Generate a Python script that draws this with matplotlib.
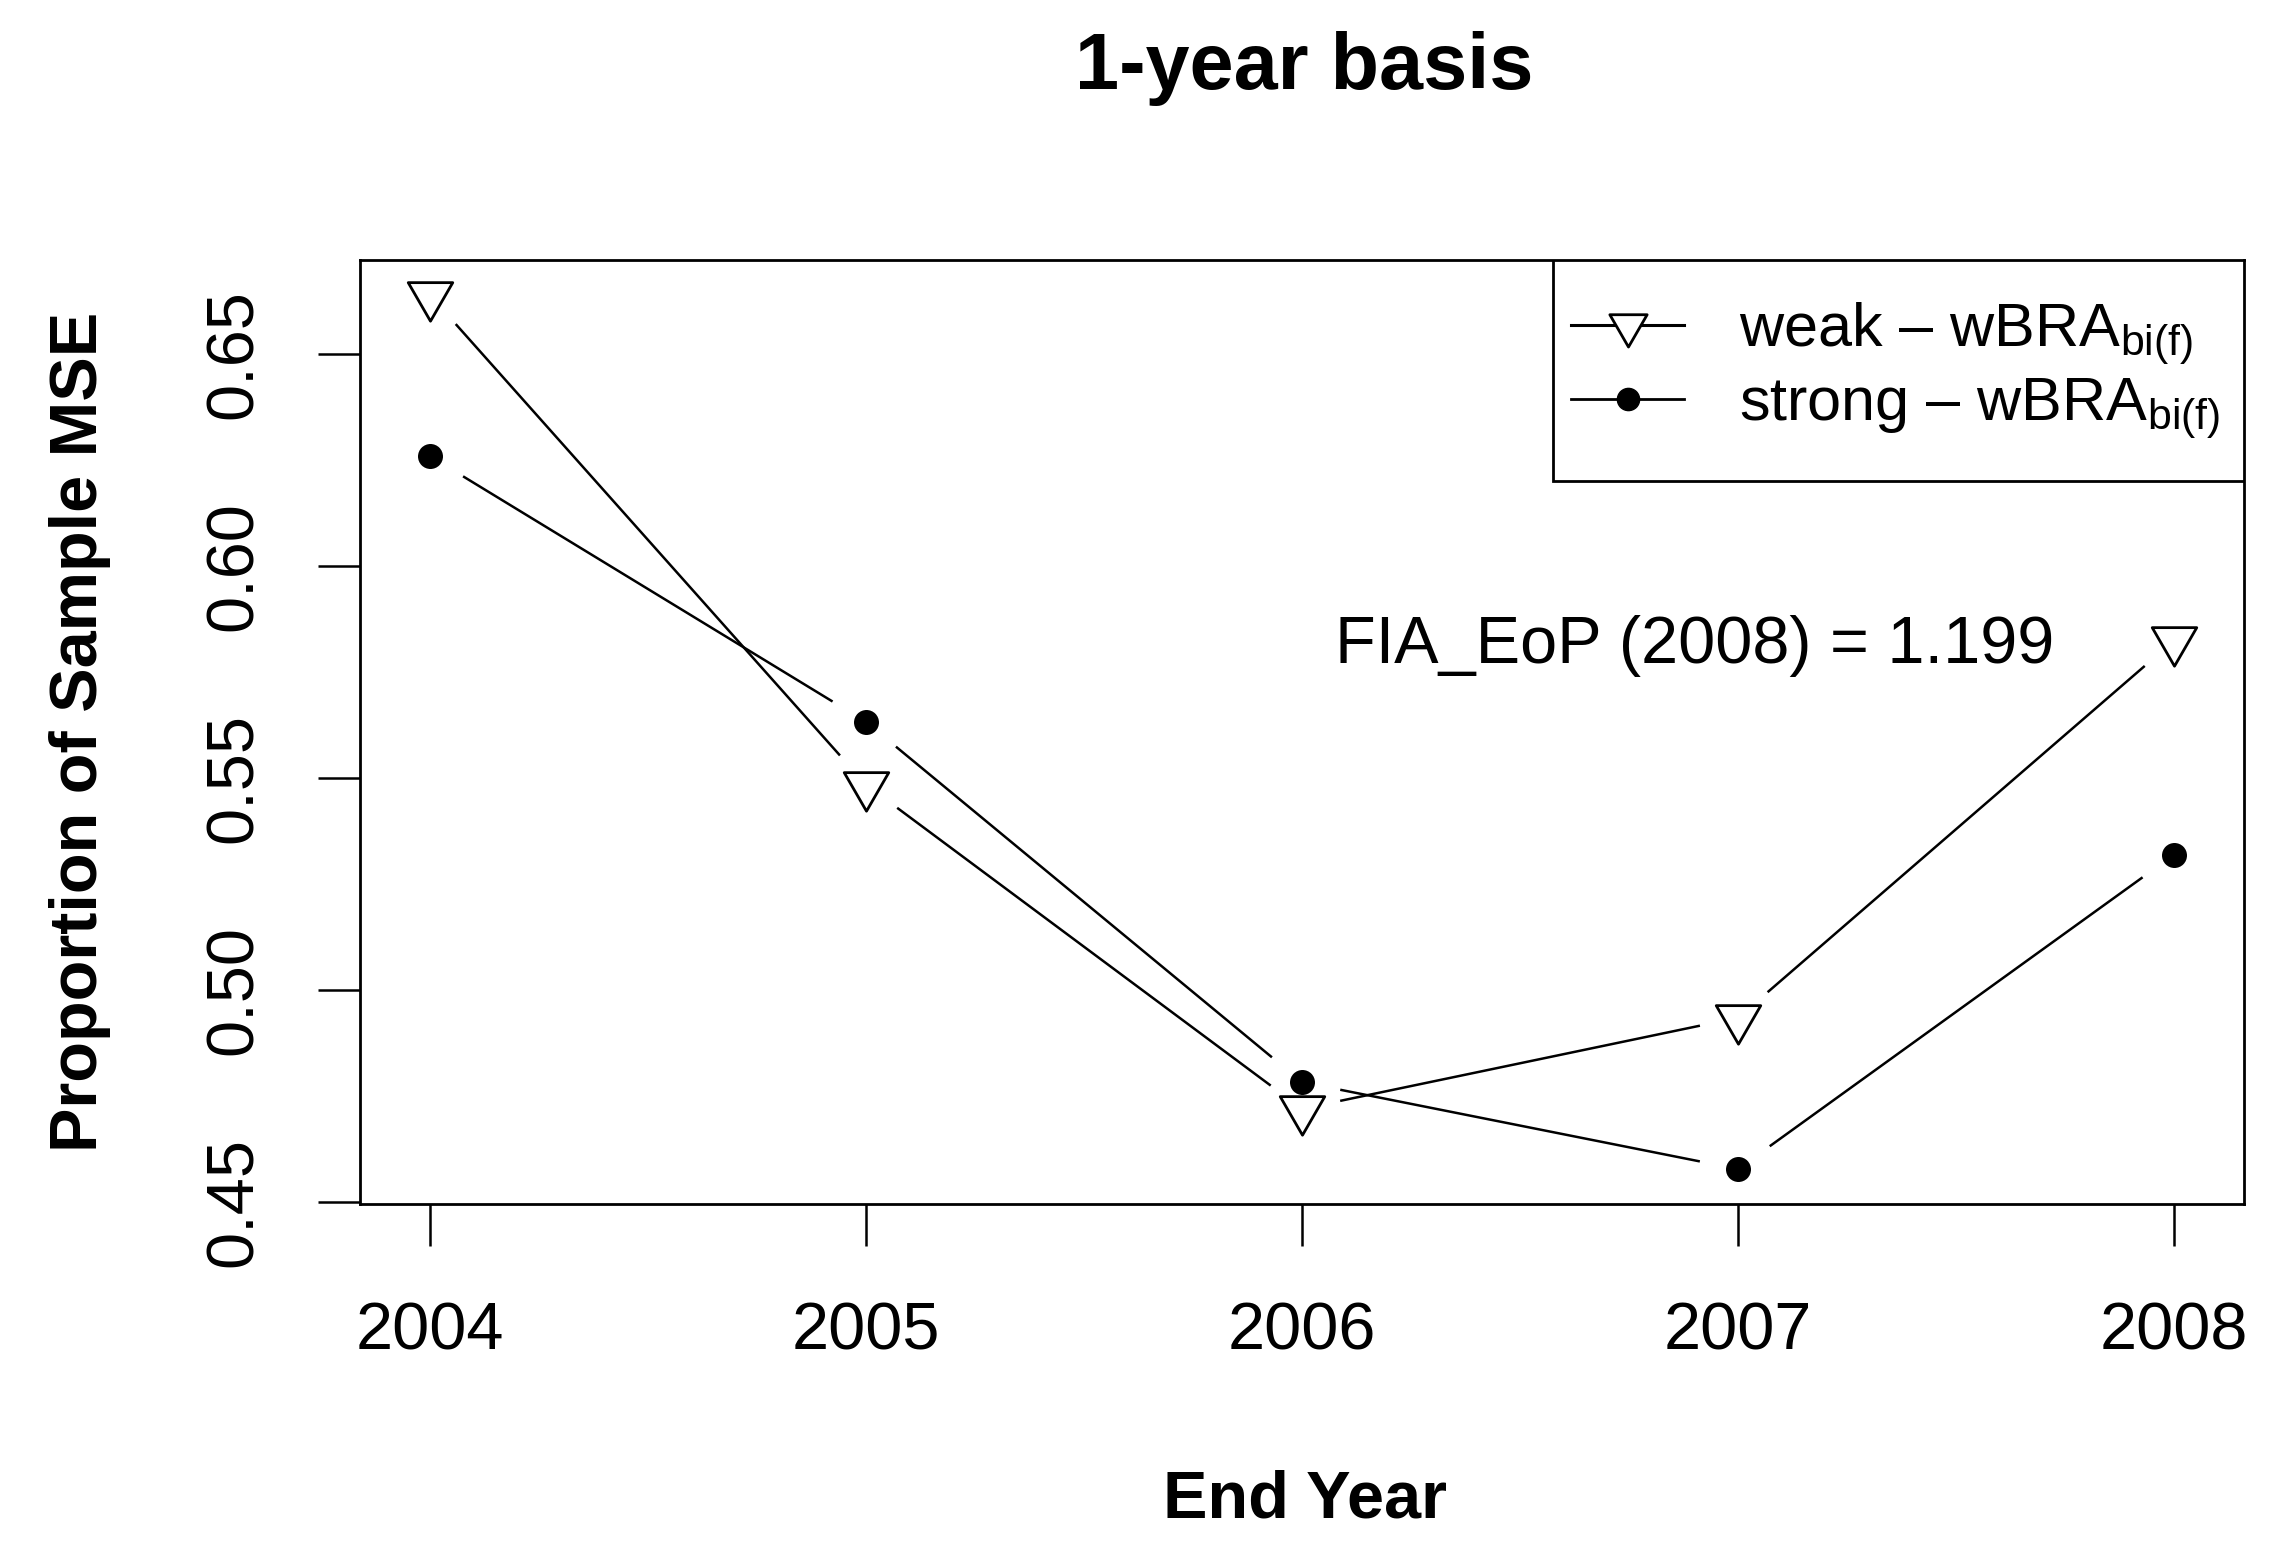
import numpy as np
import matplotlib
matplotlib.use('Agg')
import matplotlib.pyplot as plt
from matplotlib.lines import Line2D
from matplotlib.path import Path
from matplotlib.patches import Rectangle

# ---------------- data ----------------
years = [2004, 2005, 2006, 2007, 2008]
weak = [0.664, 0.5485, 0.472, 0.4935, 0.5825]
strong = [0.626, 0.5633, 0.4783, 0.4578, 0.532]
yticks = [0.45, 0.50, 0.55, 0.60, 0.65]
ytick_labels = ['0.45', '0.50', '0.55', '0.60', '0.65']
xtick_labels = ['2004', '2005', '2006', '2007', '2008']
title = '1-year basis'
xlabel = 'End Year'
ylabel = 'Proportion of Sample MSE'
legend_labels = [r'weak – wBRA$_{\mathrm{bi(f)}}$', r'strong – wBRA$_{\mathrm{bi(f)}}$']
annot = 'FIA_EoP (2008) = 1.199'
annot_xy = (2006.9, 0.5812)

# ---------------- style ----------------
plt.rcParams['font.family'] = ['Liberation Sans', 'DejaVu Sans']
plt.rcParams['mathtext.fontset'] = 'custom'
plt.rcParams['mathtext.rm'] = 'Liberation Sans'
plt.rcParams['mathtext.it'] = 'Liberation Sans:italic'
plt.rcParams['mathtext.bf'] = 'Liberation Sans:bold'

W, H = 2287, 1563
fig = plt.figure(figsize=(W / 100, H / 100), dpi=100)
ax = fig.add_axes([360 / W, 1 - 1204 / H, (2244 - 360) / W, (1204 - 260) / H])


def padded(v):
    lo, hi = min(v), max(v)
    d = (hi - lo) * 0.04
    return lo - d, hi + d


ax.set_xlim(*padded(years))
ax.set_ylim(*padded(weak + strong))

tri = Path([(-1.347, 0.778), (1.347, 0.778), (0, -1.555), (-1.347, 0.778)],
           [Path.MOVETO, Path.LINETO, Path.LINETO, Path.CLOSEPOLY])

LW = 1.8
GAP = 39


def gapped(xs, ys, gap_px, **kw):
    pts = ax.transData.transform(np.column_stack([xs, ys]))
    inv = ax.transData.inverted()
    for p0, p1 in zip(pts[:-1], pts[1:]):
        d = p1 - p0
        L = np.hypot(*d)
        if L <= 2 * gap_px:
            continue
        u = d / L
        a = inv.transform(p0 + u * gap_px)
        b = inv.transform(p1 - u * gap_px)
        ax.plot([a[0], b[0]], [a[1], b[1]], **kw)


gapped(years, weak, GAP, color='black', lw=LW, solid_capstyle='butt')
gapped(years, strong, GAP, color='black', lw=LW, solid_capstyle='butt')
ax.plot(years, weak, linestyle='none', marker=tri, ms=37, mfc='white',
        mec='black', mew=2.0, zorder=3)
ax.plot(years, strong, linestyle='none', marker='o', ms=18, mfc='black',
        mec='black', mew=0, zorder=3)

ax.text(annot_xy[0], annot_xy[1], annot, fontsize=48, ha='center', va='center')

# ticks
ax.set_xticks(years)
ax.set_xticklabels(xtick_labels)
ax.set_yticks(yticks)
ax.set_yticklabels(ytick_labels, rotation=90, va='center')
ax.tick_params(axis='both', length=30, width=1.8, labelsize=48, direction='out')
ax.tick_params(axis='x', pad=40)
ax.tick_params(axis='y', pad=38)
for s in ax.spines.values():
    s.set_linewidth(2.0)

# legend with manual frame
x0 = (1553 - 360) / (2244 - 360)
y0 = (1204 - 481) / (1204 - 260)
ax.add_patch(Rectangle((x0, y0), 1 - x0, 1 - y0, transform=ax.transAxes,
                       facecolor='white', edgecolor='black', lw=2.0, zorder=4))
handles = [
    Line2D([], [], color='black', lw=2.2, marker=tri, ms=31, mfc='white', mec='black', mew=2.0),
    Line2D([], [], color='black', lw=2.0, marker='o', ms=16, mfc='black', mec='black'),
]
leg = ax.legend(handles, legend_labels, loc='center left',
                bbox_to_anchor=(x0, (y0 + 1) / 2), borderaxespad=0, borderpad=0.3,
                fontsize=44, handlelength=1.85, handletextpad=0.9,
                labelspacing=0.15, frameon=False)
leg.set_zorder(5)

# titles
fig.text(1304 / W, 1 - 89 / H, title, ha='center', va='baseline',
         fontsize=57, fontweight='bold')
fig.text(1305 / W, 1 - 1517 / H, xlabel, ha='center', va='baseline',
         fontsize=48, fontweight='bold')
fig.text(80 / W, 1 - 732 / H, ylabel, ha='center', va='center', rotation=90,
         fontsize=48, fontweight='bold')

fig.savefig('out.png', dpi=100, facecolor='white')
